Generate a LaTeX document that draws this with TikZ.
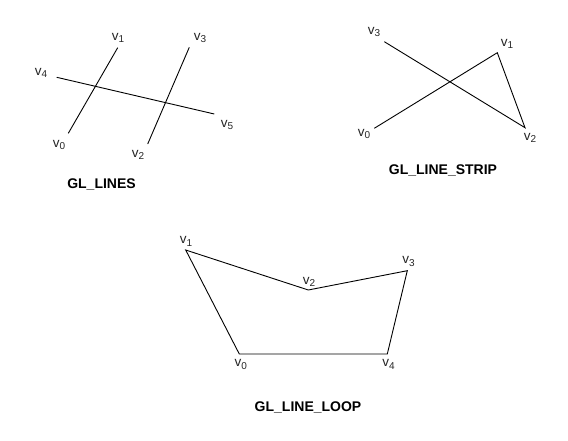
\documentclass[tikz,border=0pt]{standalone}
\usepackage{fontspec}
\setmainfont{Liberation Sans}
\newcommand{\vlab}[1]{v\raisebox{-0.4ex}{\fontsize{10}{11}\selectfont #1}}
\begin{document}
\begin{tikzpicture}[x=1pt,y=-1pt,
  edge/.style={draw=black,line width=0.9pt},
  lab/.style={inner sep=0pt,font=\fontsize{13.5}{15}\selectfont,text=black!85},
  title/.style={inner sep=0pt,font=\fontsize{14}{16}\selectfont\bfseries}]
\useasboundingbox[fill=white] (0,0) rectangle (568,441);
% GL_LINES
\coordinate (a0) at (68.3,133.3);
\coordinate (a1) at (117.7,47.7);
\coordinate (a2) at (147.7,144);
\coordinate (a3) at (189.3,47.3);
\coordinate (a4) at (56.7,77.3);
\coordinate (a5) at (214.3,114);
\draw[edge] (a0) -- (a1);
\draw[edge] (a2) -- (a3);
\draw[edge] (a4) -- (a5);
\node[lab] (la0) at (59,145) {\vlab{0}};
\node[lab] (la1) at (118,38) {\vlab{1}};
\node[lab] (la2) at (138,155) {\vlab{2}};
\node[lab] (la3) at (200,38) {\vlab{3}};
\node[lab] (la4) at (41,73) {\vlab{4}};
\node[lab] (la5) at (227,125) {\vlab{5}};
\node[title] (t1) at (101.5,184) {GL\_LINES};
% GL_LINE_STRIP
\coordinate (b0) at (374.3,128.3);
\coordinate (b1) at (497.3,52.7);
\coordinate (b2) at (525,127.7);
\coordinate (b3) at (384.3,41.7);
\draw[edge] (b0) -- (b1) -- (b2) -- (b3);
\node[lab] (lb0) at (364,134) {\vlab{0}};
\node[lab] (lb1) at (507,44) {\vlab{1}};
\node[lab] (lb2) at (530,138) {\vlab{2}};
\node[lab] (lb3) at (374,32) {\vlab{3}};
\node[title] (t2) at (443,170) {GL\_LINE\_STRIP};
% GL_LINE_LOOP
\coordinate (c0) at (239.3,354);
\coordinate (c1) at (185.7,250);
\coordinate (c2) at (308.3,290);
\coordinate (c3) at (407.3,270.7);
\coordinate (c4) at (387.3,354);
\draw[edge,line join=miter] (c0) -- (c1) -- (c2) -- (c3) -- (c4) -- cycle;
\node[lab] (lc0) at (240.7,364.5) {\vlab{0}};
\node[lab] (lc1) at (186,241.5) {\vlab{1}};
\node[lab] (lc2) at (309,282) {\vlab{2}};
\node[lab] (lc3) at (408.5,261.5) {\vlab{3}};
\node[lab] (lc4) at (388.5,364.5) {\vlab{4}};
\node[title] (t3) at (308,407) {GL\_LINE\_LOOP};
\end{tikzpicture}
\end{document}
